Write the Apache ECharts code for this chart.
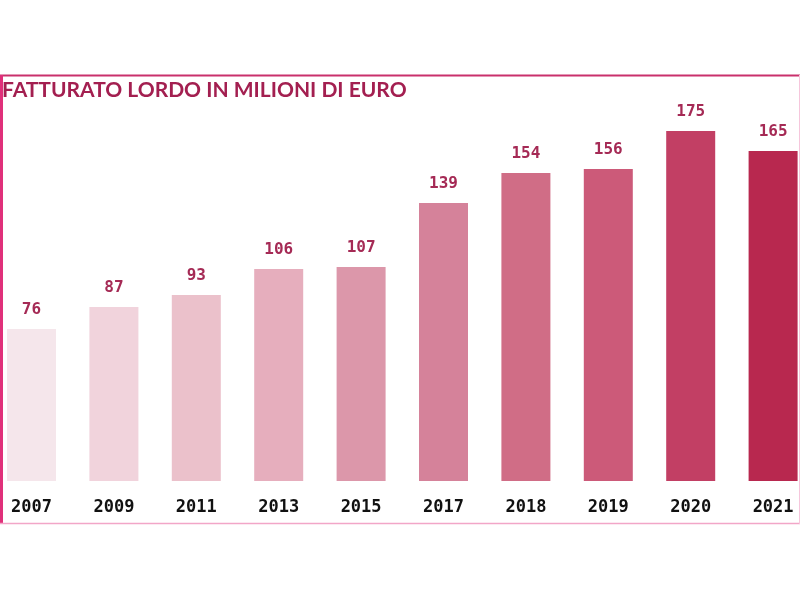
<!DOCTYPE html>
<html>
<head>
<meta charset="utf-8">
<script src="https://cdn.jsdelivr.net/npm/echarts@6/dist/echarts.min.js"></script>
<style>html,body{margin:0;padding:0;background:#fff;}#c{width:800px;height:600px;}</style>
</head>
<body>
<div id="c"></div>
<script>
const titleText = 'FATTURATO LORDO IN MILIONI DI EURO';
const years = ['2007','2009','2011','2013','2015','2017','2018','2019','2020','2021'];
const revenue = [76, 87, 93, 106, 107, 139, 154, 156, 175, 165];
const barColors = ['#f5e6eb','#f1d3dc','#ebc1cb','#e6aebd','#dc97aa','#d5829a','#d06d86','#cc5a79','#c23f64','#b8284f'];

const chart = echarts.init(document.getElementById('c'), null, {renderer:'canvas'});
chart.setOption({
  backgroundColor: '#ffffff',
  animation: false,
  title: {
    text: titleText,
    left: 2, top: 79,
    padding: 0,
    textStyle: {fontFamily: 'Lato', fontWeight: 700, fontSize: 21, color: '#a31f50', lineHeight: 22}
  },
  graphic: [
    {type:'line', shape:{x1:0,y1:75.5,x2:800,y2:75.5}, style:{stroke:'#c9306c', lineWidth:2}},
    {type:'line', shape:{x1:1.5,y1:75,x2:1.5,y2:524}, style:{stroke:'#e0307a', lineWidth:3}},
    {type:'line', shape:{x1:0,y1:523.5,x2:800,y2:523.5}, style:{stroke:'#f2a6c8', lineWidth:1.5}},
    {type:'line', shape:{x1:799.5,y1:75,x2:799.5,y2:524}, style:{stroke:'#f6c6dc', lineWidth:1}}
  ],
  grid: {left: -9.7, right: -14.3, top: 101, bottom: 119, containLabel: false, outerBoundsMode: 'none'},
  xAxis: {
    type: 'category',
    data: years,
    axisLine: {show: false},
    axisTick: {show: false},
    axisLabel: {margin: 18, fontFamily: 'DejaVu Sans Mono', fontWeight: 'bold', fontSize: 17, color: '#111111'}
  },
  yAxis: {type: 'value', min: 0, max: 190, show: false, splitLine: {show: false}},
  series: [{
    type: 'bar',
    barWidth: 49,
    data: revenue.map((v, i) => ({value: v, itemStyle: {color: barColors[i]}})),
    label: {
      show: true, position: 'top', distance: 11,
      fontFamily: 'DejaVu Sans Mono', fontWeight: 'bold', fontSize: 16, color: '#a52a55'
    }
  }]
});
</script>
</body>
</html>
